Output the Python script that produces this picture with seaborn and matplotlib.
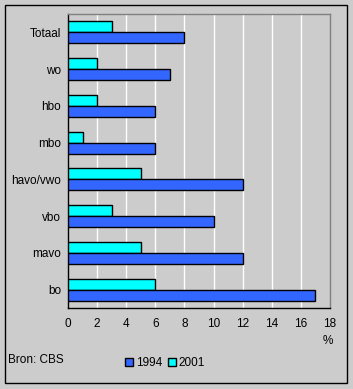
import matplotlib
matplotlib.use("Agg")
import matplotlib.pyplot as plt
import matplotlib.patches as mpatches
from matplotlib.ticker import FixedLocator
import seaborn as sns
import pandas as pd

categories = ["Totaal", "wo", "hbo", "mbo", "havo/vwo", "vbo", "mavo", "bo"]
values_1994 = [8, 7, 6, 6, 12, 10, 12, 17]
values_2001 = [3, 2, 2, 1, 5, 3, 5, 6]
xticks = [0, 2, 4, 6, 8, 10, 12, 14, 16, 18]

df = pd.DataFrame({
    "cat": categories * 2,
    "val": values_2001 + values_1994,
    "jaar": ["2001"] * len(categories) + ["1994"] * len(categories),
})

sns.set_style("white")
plt.rcParams["font.family"] = ["Liberation Sans", "DejaVu Sans"]
plt.rcParams["text.color"] = "black"
plt.rcParams["xtick.color"] = "black"
plt.rcParams["ytick.color"] = "black"

FS = 8.5

fig = plt.figure(figsize=(3.53, 3.89), dpi=100, facecolor="#CCCCCC")
ax = fig.add_axes([68/353, 1-308/389, (330-68)/353, (308-14)/389])
ax.set_facecolor("#CCCCCC")

colors = {"1994": "#3366FF", "2001": "#00FFFF"}
sns.barplot(data=df, y="cat", x="val", hue="jaar", hue_order=["2001", "1994"],
            order=categories, palette=colors, orient="h", width=0.6, saturation=1,
            edgecolor="black", linewidth=1.0, ax=ax, legend=False, zorder=3)

ax.set_xlim(0, 18)
ax.set_ylim(len(categories) - 0.5, -0.5)
ax.set_xticks(xticks)
ax.set_xticklabels([str(t) for t in xticks], fontsize=FS)
for t in xticks[1:-1]:
    ax.axvline(t, color="white", linewidth=1.0, zorder=1)

ax.set_xlabel("")
ax.set_ylabel("")
ax.set_yticks(range(len(categories)))
ax.set_yticklabels(categories, fontsize=FS)
ax.yaxis.set_minor_locator(FixedLocator([i - 0.5 for i in range(len(categories) + 1)]))
ax.tick_params(axis="y", which="major", length=0, pad=5)
ax.tick_params(axis="y", which="minor", length=3, width=1, color="black", direction="out")
ax.tick_params(axis="x", which="major", length=3, width=1, color="black", direction="out", pad=4)

for s in ["left", "bottom"]:
    ax.spines[s].set_color("black")
    ax.spines[s].set_linewidth(1.0)
for s in ["top", "right"]:
    ax.spines[s].set_color("#808080")
    ax.spines[s].set_linewidth(1.0)
    ax.spines[s].set_visible(True)

fig.text(328/353, 1-341/389, "%", fontsize=FS, ha="center", va="center")
fig.text(8/353, 1-360/389, "Bron: CBS", fontsize=FS, ha="left", va="center")

handles = [mpatches.Patch(facecolor=colors["1994"], edgecolor="black", label="1994"),
           mpatches.Patch(facecolor=colors["2001"], edgecolor="black", label="2001")]
fig.legend(handles=handles, loc="center", bbox_to_anchor=(165/353, 1-363/389), ncol=2,
           frameon=False, fontsize=FS, handlelength=0.7, handleheight=0.7,
           handletextpad=0.2, columnspacing=0.5)

fig.patches.append(mpatches.Rectangle((5/353, 1-383/389), (347-5)/353, (383-5)/389,
                                      transform=fig.transFigure, fill=False,
                                      edgecolor="black", linewidth=1.0))

fig.savefig("out.png", dpi=100, facecolor=fig.get_facecolor())
